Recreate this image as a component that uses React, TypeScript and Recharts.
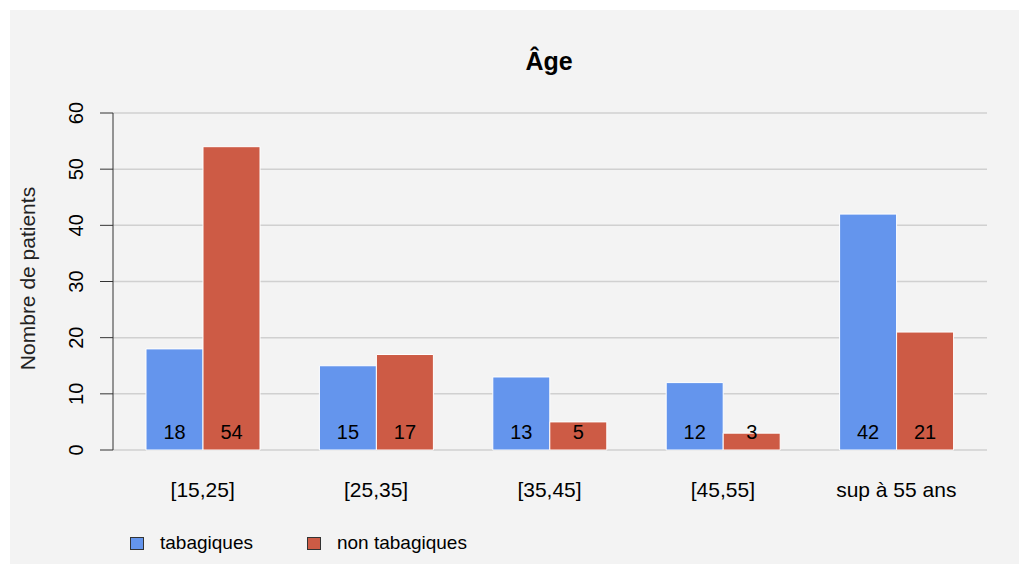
import { Bar, BarChart, CartesianGrid, LabelList, XAxis, YAxis } from "recharts"

const CATEGORIES = ["[15,25]", "[25,35]", "[35,45]", "[45,55]", "sup à 55 ans"]
const TABAGIQUES = [18, 15, 13, 12, 42]
const NON_TABAGIQUES = [54, 17, 5, 3, 21]
const Y_TICKS = [0, 10, 20, 30, 40, 50, 60]

const SERIES = [
  { key: "tab", name: "tabagiques", color: "#6495ED" },
  { key: "nontab", name: "non tabagiques", color: "#CD5B45" },
]

const FONT = "'Liberation Sans', Arial, sans-serif"

const data = CATEGORIES.map((c, i) => ({
  cat: c,
  tab: TABAGIQUES[i],
  nontab: NON_TABAGIQUES[i],
}))

const YTick = (props: any) => {
  const { x, y, payload } = props
  const tx = x - 17
  return (
    <text
      x={tx}
      y={y}
      transform={`rotate(-90, ${tx}, ${y})`}
      textAnchor="middle"
      fontSize={20}
      fill="#000"
      fontFamily={FONT}
    >
      {payload.value}
    </text>
  )
}

const XTick = (props: any) => {
  const { x, y, payload } = props
  return (
    <text x={x} y={y + 47} textAnchor="middle" fontSize={21} fill="#000" fontFamily={FONT}>
      {payload.value}
    </text>
  )
}

const ValueLabel = (props: any) => {
  const { x, y, width, height, value } = props
  return (
    <text
      x={x + width / 2}
      y={y + height - 11}
      textAnchor="middle"
      fontSize={20}
      fill="#000"
      fontFamily={FONT}
    >
      {value}
    </text>
  )
}

const AxisTitle = (props: any) => {
  const vb = props.viewBox || { y: 113, height: 337 }
  const tx = 35
  const ty = vb.y + vb.height / 2 - 3
  return (
    <text
      x={tx}
      y={ty}
      transform={`rotate(-90, ${tx}, ${ty})`}
      textAnchor="middle"
      fontSize={21}
      fill="#222"
      fontFamily={FONT}
    >
      Nombre de patients
    </text>
  )
}

export default function App() {
  return (
    <div
      style={{
        position: "absolute",
        left: 0,
        top: 0,
        width: 1028,
        height: 571,
        background: "#fff",
        fontFamily: FONT,
      }}
    >
      <div
        style={{
          position: "absolute",
          left: 10,
          top: 10,
          width: 1009,
          height: 554,
          background: "#f3f3f3",
        }}
      />
      <div
        style={{
          position: "absolute",
          left: 0,
          width: 1098,
          top: 46,
          textAlign: "center",
          fontSize: 25,
          fontWeight: "bold",
          color: "#000",
          lineHeight: "30px",
        }}
      >
        Âge
      </div>
      <div style={{ position: "absolute", left: 0, top: 0 }}>
        <BarChart
          width={1028}
          height={571}
          data={data}
          margin={{ top: 113, right: 41, bottom: 71, left: 0 }}
          barCategoryGap={30}
          barGap={0}
        >
          <CartesianGrid vertical={false} stroke="#d0d0d0" strokeWidth={1.5} />
          <XAxis
            dataKey="cat"
            axisLine={false}
            tickLine={false}
            tickSize={0}
            tickMargin={0}
            height={50}
            padding={{ left: 3, right: 4 }}
            tick={<XTick />}
            interval={0}
          />
          <YAxis
            domain={[0, 60]}
            ticks={Y_TICKS}
            width={113}
            tickSize={13}
            tickMargin={0}
            axisLine={{ stroke: "#333" }}
            tickLine={{ stroke: "#333" }}
            tick={<YTick />}
            label={{ content: <AxisTitle /> }}
          />
          {SERIES.map((s) => (
            <Bar
              key={s.key}
              dataKey={s.key}
              name={s.name}
              fill={s.color}
              stroke="#fff"
              strokeWidth={1}
              isAnimationActive={false}
            >
              <LabelList dataKey={s.key} content={<ValueLabel />} />
            </Bar>
          ))}
        </BarChart>
      </div>
      <div style={{ position: "absolute", left: 130, top: 532, display: "flex", alignItems: "center" }}>
        {SERIES.map((s, i) => (
          <div
            key={s.key}
            style={{ display: "flex", alignItems: "center", marginRight: i === 0 ? 54 : 0 }}
          >
            <div
              style={{
                width: 12,
                height: 11,
                background: s.color,
                border: "1px solid #333",
                marginRight: 16,
              }}
            />
            <span style={{ fontSize: 19, color: "#000", lineHeight: "22px" }}>{s.name}</span>
          </div>
        ))}
      </div>
    </div>
  )
}
